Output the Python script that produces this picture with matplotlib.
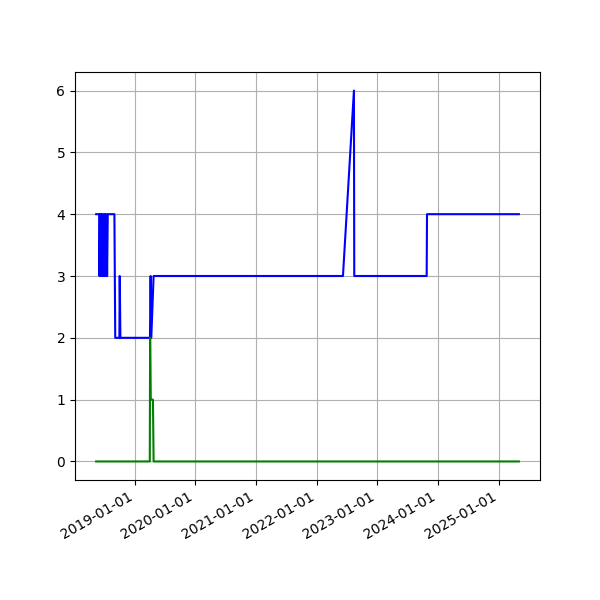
import matplotlib
matplotlib.use("Agg")
import matplotlib.pyplot as plt
import matplotlib.dates as mdates
import pandas as pd

blue_dates = [
    "2018-05-15", "2018-06-02", "2018-06-04", "2018-06-08", "2018-06-11",
    "2018-06-15", "2018-06-18", "2018-06-22", "2018-06-26", "2018-06-30",
    "2018-07-04", "2018-07-08", "2018-07-12", "2018-07-16", "2018-07-20",
    "2018-07-24", "2018-09-02", "2018-09-07", "2018-10-02", "2018-10-04",
    "2018-10-08", "2019-04-04", "2019-04-08", "2019-04-12", "2019-04-26",
    "2022-06-09", "2022-08-14", "2022-08-16", "2023-10-26", "2023-10-28",
    "2025-05-03",
]
blue_values = [
    4, 4, 3, 4, 3,
    4, 3, 4, 3, 4,
    3, 4, 3, 4, 3,
    4, 4, 2, 2, 3,
    2, 2, 3, 2, 3,
    3, 6, 3, 3, 4,
    4,
]

green_dates = [
    "2018-05-15", "2019-04-03", "2019-04-05", "2019-04-09", "2019-04-22",
    "2019-04-26", "2025-05-03",
]
green_values = [0, 0, 2, 1, 1, 0, 0]

fig, ax = plt.subplots(figsize=(6, 6), dpi=100)
ax.plot(pd.to_datetime(blue_dates), blue_values, "b")
ax.plot(pd.to_datetime(green_dates), green_values, "g")
ax.xaxis.set_major_locator(mdates.YearLocator())
ax.xaxis.set_major_formatter(mdates.DateFormatter("%Y-%m-%d"))
ax.grid(True)
fig.autofmt_xdate()
plt.savefig("out.png")
